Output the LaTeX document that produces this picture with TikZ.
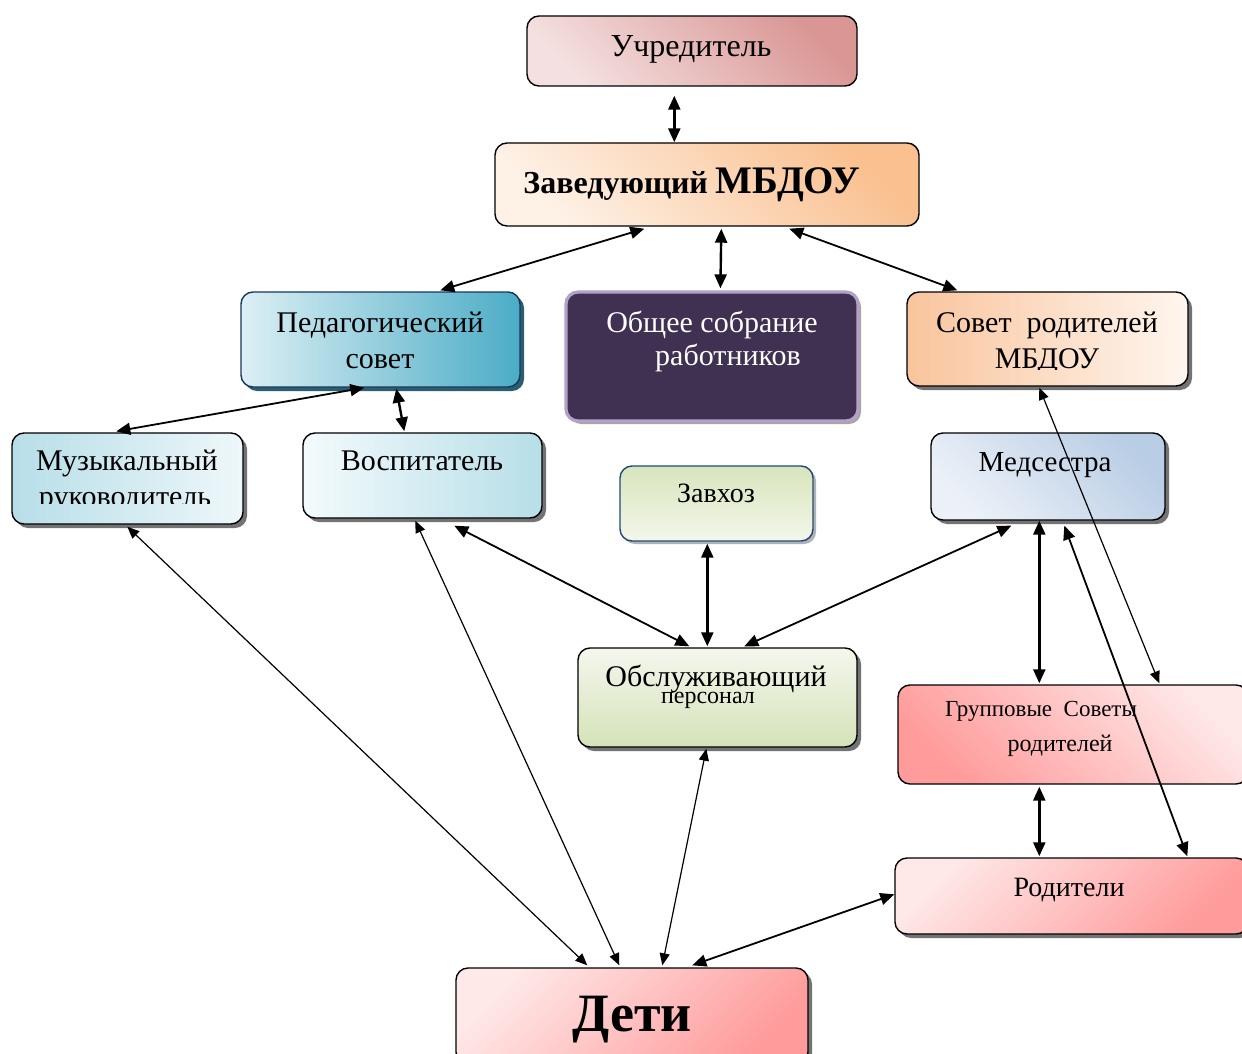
\documentclass[tikz,border=0pt]{standalone}
\usepackage{fontspec}
\setmainfont{Liberation Serif}
\usetikzlibrary{arrows.meta,shadows,calc}
\newcommand\myfs[1]{\fontsize{#1}{#1}\selectfont}
\definecolor{uchA}{HTML}{F4E0E0}\definecolor{uchB}{HTML}{D99694}
\definecolor{zavA}{HTML}{FEF1E6}\definecolor{zavB}{HTML}{FAC090}
\definecolor{pedA}{HTML}{DCEFF4}\definecolor{pedM}{HTML}{A9D7E3}\definecolor{pedB}{HTML}{4BACC6}
\definecolor{pedD}{HTML}{17365D}\definecolor{pedS}{HTML}{2B5F70}
\definecolor{obsF}{HTML}{403152}\definecolor{obsD}{HTML}{B3A2C7}
\definecolor{sovA}{HTML}{F9C49C}\definecolor{sovB}{HTML}{FFF6EF}
\definecolor{muzA}{HTML}{B7DEE8}\definecolor{muzB}{HTML}{EEF7FA}
\definecolor{vosA}{HTML}{F3FAFC}\definecolor{vosB}{HTML}{B7DEE8}
\definecolor{zhA}{HTML}{D8E4BC}\definecolor{zhB}{HTML}{F3F7EA}\definecolor{zhD}{HTML}{1F497D}
\definecolor{medA}{HTML}{ECF1F8}\definecolor{medB}{HTML}{B9CDE5}
\definecolor{oslA}{HTML}{F4F7EE}\definecolor{oslB}{HTML}{D5E2B8}
\definecolor{pkD}{HTML}{FF9B9B}\definecolor{pkL}{HTML}{FFE8E8}
\begin{document}
\begin{tikzpicture}[x=0.5pt,y=-0.5pt,
  box/.style={draw=black, line width=0.7pt, rounded corners=6pt, inner sep=0pt},
  shad/.style={drop shadow={shadow xshift=2pt, shadow yshift=-2pt, fill=black!55, opacity=1}},
  lbl/.style={anchor=base, inner sep=0pt},
  dbl/.style={{Triangle[length=7pt,width=6pt]}-{Triangle[length=7pt,width=6pt]}, line width=1.2pt},
  mid/.style={{Triangle[length=7pt,width=6pt]}-{Triangle[length=7pt,width=6pt]}, line width=0.9pt},
  lnthin/.style={{Triangle[length=6pt,width=5pt]}-{Triangle[length=6pt,width=5pt]}, line width=0.6pt}]
\useasboundingbox (0,0) rectangle (1242,1054);
\clip (0,0) rectangle (1242,1054);
\fill[white] (0,0) rectangle (1242,1054);

% boxes
\node[box, minimum width=165pt, minimum height=35pt, left color=uchA, right color=uchB, shading angle=135] (uch) at (692,51) {};
\node[box, minimum width=212pt, minimum height=41.5pt, left color=zavA, right color=zavB, shading angle=135] (zav) at (707,184.5) {};
\node[box, draw=pedD, minimum width=139.5pt, minimum height=47.5pt, drop shadow={shadow xshift=2pt, shadow yshift=-2pt, fill=pedS, opacity=1}, left color=pedA, middle color=pedM, right color=pedB] (ped) at (380.5,339.5) {};
\node[box, draw=obsD, line width=1.6pt, minimum width=146pt, minimum height=64.5pt, fill=obsF, drop shadow={shadow xshift=1.5pt, shadow yshift=-1.5pt, fill=black!35, opacity=1}] (obs) at (712,356.5) {};
\node[box, shad, minimum width=140.5pt, minimum height=47pt, left color=sovA, right color=sovB] (sov) at (1047.5,339) {};
\node[box, shad, minimum width=115.5pt, minimum height=45.5pt, left color=muzA, right color=muzB] (muz) at (127.5,478.5) {};
\node[box, shad, minimum width=119.5pt, minimum height=42.5pt, left color=vosA, right color=vosB] (vos) at (422.5,475.5) {};
\node[box, draw=zhD, drop shadow={shadow xshift=1.5pt, shadow yshift=-1.5pt, fill=black!30, opacity=1}, minimum width=96.5pt, minimum height=37.5pt, top color=zhA, bottom color=zhB] (zavh) at (716.5,503.5) {};
\node[box, shad, minimum width=117pt, minimum height=43.5pt, left color=medA, right color=medB, shading angle=135] (med) at (1048,476.5) {};
\node[box, shad, minimum width=139.5pt, minimum height=49.5pt, top color=oslA, bottom color=oslB] (osl) at (717.5,697.5) {};
\node[box, minimum width=175pt, minimum height=49.5pt, left color=pkD, right color=pkL, shading angle=135] (grp) at (1073,734.5) {};
\node[box, shad, minimum width=176.5pt, minimum height=38pt, left color=pkL, right color=pkD, shading angle=45] (rod) at (1071.5,896) {};
\node[box, shad, minimum width=176pt, minimum height=48pt, left color=pkL, right color=pkD, shading angle=45] (deti) at (632,1016) {};

% texts
\node[lbl, font=\myfs{16}] (tuch) at (691,57) {Учредитель};
\node[lbl, font=\bfseries\myfs{16}] (tzav) at (692,193) {Заведующий {\myfs{19.5}МБДОУ}};
\node[lbl, font=\myfs{15}] (tped1) at (380,332) {Педагогический};
\begin{scope}
\clip (241,292) rectangle (520,369);
\node[lbl, font=\myfs{15}] (tped2) at (380,368) {совет};
\end{scope}
\node[lbl, font=\myfs{15}, text=white] (tobs1) at (712,332) {Общее собрание};
\node[lbl, font=\myfs{15}, text=white] (tobs2) at (728,365) {работников};
\node[lbl, font=\myfs{15}] (tsov1) at (1047,332) {Совет\ \ родителей};
\begin{scope}
\clip (907,292) rectangle (1188,369);
\node[lbl, font=\myfs{15}] (tsov2) at (1047,368) {МБДОУ};
\end{scope}
\node[lbl, font=\myfs{15}] (tmuz1) at (127,470) {Музыкальный};
\begin{scope}
\clip (12,433) rectangle (243,503);
\node[lbl, font=\myfs{15}] (tmuz2) at (125,506) {руководитель};
\end{scope}
\node[lbl, font=\myfs{15}] (tvos) at (422,470) {Воспитатель};
\node[lbl, font=\myfs{14}] (tzh) at (716,502) {Завхоз};
\node[lbl, font=\myfs{14.5}] (tmed) at (1045,471) {Медсестра};
\node[lbl, font=\myfs{15}] (tosl1) at (716,686) {Обслуживающий};
\node[lbl, font=\myfs{12}] (tosl2) at (708,703) {персонал};
\node[lbl, font=\myfs{11.5}] (tgrp1) at (1041,716) {Групповые\ \ Советы};
\node[lbl, font=\myfs{12}] (tgrp2) at (1060,751) {родителей};
\node[lbl, font=\myfs{14}] (trod) at (1069,896) {Родители};
\node[lbl, font=\bfseries\myfs{27}] (tdeti) at (632,1031) {Дети};

% connectors
\draw[dbl] ($(uch.south west)+(148,9)$) -- ($(zav.north west)+(180,0)$);
\draw[mid] ($(zav.south west)+(150,2)$) -- ($(ped.north west)+(200,-1)$);
\draw[dbl] ($(zav.south west)+(227,2)$) -- ($(obs.north west)+(156,-2)$);
\draw[mid] ($(zav.south west)+(295,2)$) -- ($(sov.north west)+(51,-1)$);
\draw[mid] ($(ped.south west)+(124,0)$) -- ($(muz.north west)+(105,-1)$);
\draw[dbl] ($(ped.south west)+(156,1)$) -- ($(vos.north west)+(102,-1)$);
\draw[lnthin] ($(muz.south west)+(116,2)$) -- ($(deti.north west)+(132,-2)$);
\draw[lnthin] ($(vos.south west)+(113,2)$) -- ($(deti.north west)+(164,-2)$);
\draw[mid] ($(vos.south west)+(152,7)$) -- ($(osl.north west)+(112,-1)$);
\draw[dbl] ($(zavh.south west)+(88,2)$) -- ($(osl.north west)+(130,-1)$);
\draw[mid] ($(med.south west)+(81,5)$) -- ($(osl.north west)+(167,-1)$);
\draw[lnthin] ($(osl.south west)+(129,1)$) -- ($(deti.north west)+(207,-2)$);
\draw[dbl] ($(med.south west)+(109,0)$) -- ($(grp.north west)+(142,-1)$);
\draw[mid] ($(med.south west)+(134,5)$) -- ($(rod.north west)+(293,-1)$);
\draw[lnthin] ($(sov.south west)+(133,1)$) -- ($(grp.north west)+(262,-1)$);
\draw[dbl] ($(grp.south west)+(142,2)$) -- ($(rod.north west)+(145,-1)$);
\draw[mid] ($(rod.north west)+(0,37)$) -- ($(deti.north west)+(237,-2)$);
\end{tikzpicture}
\end{document}
